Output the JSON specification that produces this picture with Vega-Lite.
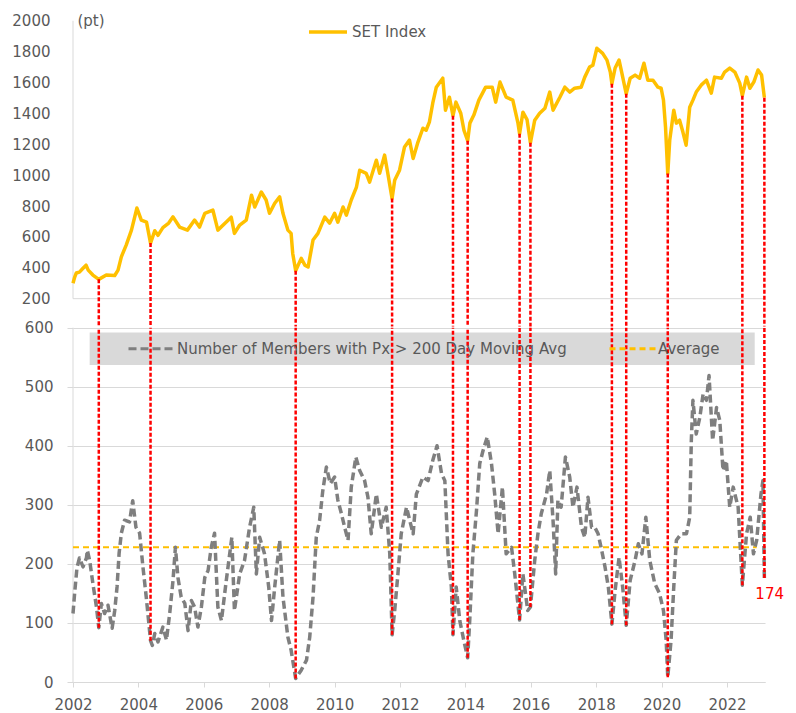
{
  "$schema": "https://vega.github.io/schema/vega-lite/v6.json",
  "width": 692,
  "height": 662,
  "autosize": {"type": "none"},
  "padding": {"left": 73, "top": 20, "right": 31, "bottom": 31},
  "config": {
    "view": {"stroke": null},
    "font": "DejaVu Sans",
    "axis": {"labelFont": "DejaVu Sans", "labelFontSize": 15, "labelColor": "#595959", "domainColor": "#d9d9d9", "tickColor": "#d9d9d9", "gridColor": "#d9d9d9"},
    "axisX": {"tickCount": 10, "format": "%Y", "labelFlush": false, "labelOverlap": false, "domain": true, "ticks": true, "tickSize": 5, "labelPadding": 10, "title": null, "grid": false},
    "legend": {"labelFont": "DejaVu Sans", "labelFontSize": 15, "labelColor": "#595959", "labelLimit": 600, "symbolType": "stroke", "padding": 0}
  },
  "datasets": {
    "set": [
      {"date":"2002-01-01","value":300},{"date":"2002-01-20","value":340},{"date":"2002-02-06","value":366},{"date":"2002-03-14","value":372},{"date":"2002-04-20","value":395},{"date":"2002-05-27","value":417},{"date":"2002-06-20","value":385},{"date":"2002-08-11","value":353},{"date":"2002-10-16","value":325},
      {"date":"2003-01-08","value":353},{"date":"2003-04-12","value":350},{"date":"2003-05-19","value":385},{"date":"2003-06-25","value":471},{"date":"2003-08-18","value":547},{"date":"2003-10-16","value":644},{"date":"2003-12-16","value":787},
      {"date":"2004-02-03","value":709},{"date":"2004-04-01","value":696},{"date":"2004-05-16","value":560},{"date":"2004-07-02","value":640},{"date":"2004-08-07","value":610},{"date":"2004-10-01","value":660},{"date":"2004-12-05","value":690},
      {"date":"2005-01-22","value":730},{"date":"2005-04-05","value":664},{"date":"2005-07-02","value":644},{"date":"2005-09-20","value":709},{"date":"2005-11-14","value":664},
      {"date":"2006-01-12","value":753},{"date":"2006-04-12","value":774},{"date":"2006-06-07","value":644},{"date":"2006-09-09","value":696},{"date":"2006-11-03","value":728},{"date":"2006-12-09","value":623},
      {"date":"2007-02-06","value":677},{"date":"2007-04-20","value":709},{"date":"2007-06-18","value":870},{"date":"2007-07-24","value":794},{"date":"2007-10-05","value":891},{"date":"2007-11-28","value":839},
      {"date":"2008-01-05","value":753},{"date":"2008-03-03","value":818},{"date":"2008-04-27","value":859},{"date":"2008-06-03","value":753},{"date":"2008-07-28","value":644},{"date":"2008-09-02","value":623},{"date":"2008-09-20","value":493},{"date":"2008-10-23","value":381},{"date":"2008-12-24","value":461},
      {"date":"2009-02-03","value":417},{"date":"2009-03-11","value":405},{"date":"2009-05-05","value":580},{"date":"2009-06-29","value":623},{"date":"2009-09-13","value":728},{"date":"2009-11-06","value":689},
      {"date":"2010-01-01","value":753},{"date":"2010-02-06","value":696},{"date":"2010-04-05","value":794},{"date":"2010-05-12","value":741},{"date":"2010-07-06","value":839},{"date":"2010-09-02","value":923},{"date":"2010-10-08","value":1032},{"date":"2010-12-20","value":1012},
      {"date":"2011-01-27","value":955},{"date":"2011-04-12","value":1097},{"date":"2011-05-19","value":1012},{"date":"2011-07-13","value":1130},{"date":"2011-08-18","value":1012},{"date":"2011-10-05","value":848},{"date":"2011-11-03","value":967},{"date":"2011-12-27","value":1032},
      {"date":"2012-02-21","value":1183},{"date":"2012-04-16","value":1227},{"date":"2012-05-27","value":1108},{"date":"2012-07-20","value":1214},{"date":"2012-09-13","value":1304},{"date":"2012-10-19","value":1291},{"date":"2012-11-24","value":1343},
      {"date":"2013-01-01","value":1466},{"date":"2013-02-10","value":1570},{"date":"2013-04-23","value":1628},{"date":"2013-05-23","value":1421},{"date":"2013-07-06","value":1505},{"date":"2013-08-15","value":1385},{"date":"2013-09-17","value":1473},{"date":"2013-11-10","value":1401},{"date":"2013-12-16","value":1290},
      {"date":"2014-01-26","value":1223},{"date":"2014-02-20","value":1337},{"date":"2014-04-05","value":1389},{"date":"2014-05-31","value":1486},{"date":"2014-08-15","value":1570},{"date":"2014-10-27","value":1570},{"date":"2014-12-05","value":1473},
      {"date":"2015-01-22","value":1603},{"date":"2015-04-01","value":1505},{"date":"2015-06-14","value":1486},{"date":"2015-08-11","value":1337},{"date":"2015-08-29","value":1268},{"date":"2015-10-05","value":1408},{"date":"2015-11-20","value":1360},{"date":"2015-12-28","value":1210},
      {"date":"2016-02-14","value":1356},{"date":"2016-04-09","value":1401},{"date":"2016-06-07","value":1433},{"date":"2016-07-31","value":1538},{"date":"2016-09-06","value":1421},{"date":"2016-11-21","value":1505},
      {"date":"2017-01-15","value":1570},{"date":"2017-03-11","value":1538},{"date":"2017-05-05","value":1563},{"date":"2017-07-17","value":1570},{"date":"2017-08-26","value":1635},{"date":"2017-10-19","value":1700},{"date":"2017-11-24","value":1712},
      {"date":"2018-01-08","value":1822},{"date":"2018-03-14","value":1789},{"date":"2018-05-01","value":1745},{"date":"2018-06-07","value":1668},{"date":"2018-06-25","value":1592},{"date":"2018-07-31","value":1694},{"date":"2018-09-13","value":1745},{"date":"2018-10-12","value":1668},{"date":"2018-12-02","value":1527},
      {"date":"2019-01-15","value":1628},{"date":"2019-03-11","value":1648},{"date":"2019-05-01","value":1628},{"date":"2019-06-18","value":1725},{"date":"2019-07-31","value":1615},{"date":"2019-09-27","value":1615},{"date":"2019-11-21","value":1570},{"date":"2019-12-27","value":1563},
      {"date":"2020-01-22","value":1486},{"date":"2020-02-14","value":1311},{"date":"2020-03-10","value":1010},{"date":"2020-04-01","value":1227},{"date":"2020-05-16","value":1421},{"date":"2020-06-14","value":1337},{"date":"2020-07-20","value":1356},{"date":"2020-08-26","value":1279},{"date":"2020-10-01","value":1194},{"date":"2020-11-10","value":1440},{"date":"2020-12-16","value":1486},
      {"date":"2021-01-22","value":1538},{"date":"2021-03-18","value":1583},{"date":"2021-05-16","value":1615},{"date":"2021-07-09","value":1531},{"date":"2021-08-15","value":1635},{"date":"2021-10-30","value":1628},{"date":"2021-12-05","value":1668},
      {"date":"2022-01-31","value":1694},{"date":"2022-03-29","value":1668},{"date":"2022-05-23","value":1596},{"date":"2022-06-21","value":1515},{"date":"2022-08-07","value":1635},{"date":"2022-09-13","value":1563},{"date":"2022-10-27","value":1603},{"date":"2022-12-13","value":1681},
      {"date":"2023-01-22","value":1648},{"date":"2023-02-22","value":1502}
    ],
    "breadth": [
      {"date":"2002-01-01","value":116},{"date":"2002-01-19","value":150},{"date":"2002-02-14","value":193},{"date":"2002-03-14","value":210},{"date":"2002-04-23","value":195},{"date":"2002-05-31","value":210},{"date":"2002-06-10","value":223},{"date":"2002-07-06","value":206},{"date":"2002-08-11","value":167},{"date":"2002-09-20","value":127},{"date":"2002-10-16","value":92},{"date":"2002-11-14","value":133},{"date":"2002-12-20","value":116},
      {"date":"2003-01-27","value":130},{"date":"2003-03-14","value":91},{"date":"2003-04-12","value":121},{"date":"2003-05-08","value":161},{"date":"2003-05-31","value":218},{"date":"2003-06-25","value":252},{"date":"2003-07-31","value":274},{"date":"2003-09-24","value":271},{"date":"2003-10-30","value":307},{"date":"2003-12-05","value":262},
      {"date":"2004-01-15","value":252},{"date":"2004-02-21","value":195},{"date":"2004-03-29","value":144},{"date":"2004-05-16","value":70},{"date":"2004-06-05","value":62},{"date":"2004-07-02","value":82},{"date":"2004-08-07","value":68},{"date":"2004-10-01","value":93},{"date":"2004-11-10","value":71},{"date":"2004-12-16","value":116},
      {"date":"2005-01-22","value":172},{"date":"2005-02-18","value":228},{"date":"2005-03-18","value":177},{"date":"2005-04-23","value":144},{"date":"2005-06-03","value":133},{"date":"2005-07-09","value":87},{"date":"2005-08-15","value":138},{"date":"2005-09-20","value":127},{"date":"2005-10-27","value":93},{"date":"2005-12-05","value":127},
      {"date":"2006-01-12","value":177},{"date":"2006-02-18","value":189},{"date":"2006-03-25","value":228},{"date":"2006-05-01","value":252},{"date":"2006-06-07","value":127},{"date":"2006-07-17","value":104},{"date":"2006-09-09","value":172},{"date":"2006-11-10","value":245},{"date":"2006-12-09","value":121},
      {"date":"2007-02-06","value":183},{"date":"2007-04-01","value":206},{"date":"2007-05-27","value":262},{"date":"2007-07-13","value":296},{"date":"2007-08-11","value":183},{"date":"2007-09-17","value":245},{"date":"2007-11-10","value":217},{"date":"2007-12-27","value":161},
      {"date":"2008-01-27","value":104},{"date":"2008-03-03","value":161},{"date":"2008-04-27","value":240},{"date":"2008-06-03","value":144},{"date":"2008-07-28","value":76},{"date":"2008-09-02","value":54},{"date":"2008-10-23","value":6},{"date":"2008-12-24","value":20},
      {"date":"2009-02-21","value":37},{"date":"2009-03-29","value":76},{"date":"2009-05-05","value":144},{"date":"2009-06-10","value":245},{"date":"2009-07-17","value":273},{"date":"2009-08-22","value":324},{"date":"2009-10-01","value":364},{"date":"2009-11-14","value":336},
      {"date":"2010-01-01","value":347},{"date":"2010-02-06","value":308},{"date":"2010-03-18","value":285},{"date":"2010-04-23","value":262},{"date":"2010-05-31","value":240},{"date":"2010-07-06","value":330},{"date":"2010-08-26","value":381},{"date":"2010-10-08","value":358},{"date":"2010-12-02","value":341},
      {"date":"2011-01-08","value":313},{"date":"2011-02-14","value":251},{"date":"2011-04-12","value":318},{"date":"2011-06-07","value":262},{"date":"2011-07-31","value":296},{"date":"2011-09-09","value":217},{"date":"2011-10-05","value":80},{"date":"2011-11-03","value":121},{"date":"2011-12-09","value":183},
      {"date":"2012-01-15","value":251},{"date":"2012-03-14","value":296},{"date":"2012-04-20","value":273},{"date":"2012-05-27","value":251},{"date":"2012-07-02","value":318},{"date":"2012-09-13","value":347},{"date":"2012-11-10","value":341},
      {"date":"2013-01-01","value":375},{"date":"2013-02-18","value":400},{"date":"2013-04-09","value":353},{"date":"2013-05-16","value":341},{"date":"2013-06-21","value":217},{"date":"2013-07-28","value":161},{"date":"2013-08-15","value":80},{"date":"2013-09-20","value":161},{"date":"2013-10-30","value":104},{"date":"2013-12-13","value":71},
      {"date":"2014-01-26","value":41},{"date":"2014-02-18","value":104},{"date":"2014-03-25","value":217},{"date":"2014-05-05","value":291},{"date":"2014-06-10","value":370},{"date":"2014-07-17","value":392},{"date":"2014-09-02","value":415},{"date":"2014-10-19","value":370},{"date":"2014-11-24","value":318},
      {"date":"2015-01-01","value":251},{"date":"2015-02-18","value":330},{"date":"2015-04-01","value":217},{"date":"2015-05-31","value":228},{"date":"2015-07-06","value":183},{"date":"2015-08-29","value":105},{"date":"2015-10-05","value":183},{"date":"2015-11-28","value":121},{"date":"2015-12-28","value":127},
      {"date":"2016-02-14","value":206},{"date":"2016-03-21","value":251},{"date":"2016-04-27","value":285},{"date":"2016-06-25","value":318},{"date":"2016-07-31","value":358},{"date":"2016-09-06","value":273},{"date":"2016-10-05","value":183},{"date":"2016-10-30","value":308},{"date":"2016-12-05","value":296},
      {"date":"2017-01-22","value":381},{"date":"2017-03-11","value":347},{"date":"2017-04-16","value":296},{"date":"2017-05-31","value":330},{"date":"2017-07-20","value":262},{"date":"2017-08-26","value":245},{"date":"2017-10-01","value":313},{"date":"2017-11-10","value":262},{"date":"2017-12-16","value":262},
      {"date":"2018-01-22","value":251},{"date":"2018-03-03","value":223},{"date":"2018-04-09","value":195},{"date":"2018-05-16","value":161},{"date":"2018-06-25","value":98},{"date":"2018-07-31","value":155},{"date":"2018-09-13","value":211},{"date":"2018-10-23","value":161},{"date":"2018-12-02","value":96},
      {"date":"2019-01-15","value":172},{"date":"2019-03-11","value":206},{"date":"2019-04-16","value":234},{"date":"2019-05-27","value":217},{"date":"2019-07-09","value":279},{"date":"2019-08-22","value":206},{"date":"2019-10-16","value":167},{"date":"2019-12-09","value":150},
      {"date":"2020-01-22","value":121},{"date":"2020-02-21","value":71},{"date":"2020-03-10","value":8},{"date":"2020-04-16","value":71},{"date":"2020-05-16","value":161},{"date":"2020-06-14","value":240},{"date":"2020-08-07","value":251},{"date":"2020-10-05","value":251},{"date":"2020-11-10","value":279},{"date":"2020-11-28","value":409},{"date":"2020-12-16","value":477},
      {"date":"2021-01-22","value":420},{"date":"2021-03-03","value":448},{"date":"2021-04-09","value":488},{"date":"2021-05-16","value":477},{"date":"2021-06-14","value":519},{"date":"2021-07-24","value":409},{"date":"2021-09-06","value":465},{"date":"2021-10-12","value":443},{"date":"2021-11-17","value":358},{"date":"2021-12-24","value":375},
      {"date":"2022-01-31","value":296},{"date":"2022-03-11","value":330},{"date":"2022-05-05","value":296},{"date":"2022-06-21","value":164},{"date":"2022-08-07","value":251},{"date":"2022-09-17","value":279},{"date":"2022-10-23","value":217},{"date":"2022-11-28","value":240},
      {"date":"2023-01-15","value":318},{"date":"2023-02-06","value":341},{"date":"2023-02-22","value":174}
    ],
    "crashes": [
      {"date":"2002-10-16","set":325,"breadth":92},
      {"date":"2004-05-16","set":560,"breadth":70},
      {"date":"2008-10-23","set":381,"breadth":6},
      {"date":"2011-10-05","set":848,"breadth":80},
      {"date":"2013-08-15","set":1385,"breadth":80},
      {"date":"2014-01-26","set":1223,"breadth":41},
      {"date":"2015-08-29","set":1268,"breadth":105},
      {"date":"2015-12-28","set":1210,"breadth":127},
      {"date":"2018-06-25","set":1592,"breadth":98},
      {"date":"2018-12-02","set":1527,"breadth":96},
      {"date":"2020-03-10","set":1010,"breadth":8},
      {"date":"2022-06-21","set":1515,"breadth":164},
      {"date":"2023-02-22","set":1502,"breadth":176}
    ],
    "average": [{"start":"2002-01-01","end":"2022-11-28","value":228}]
  },
  "layer": [
    {
      "data": {"values": [{}]},
      "mark": {"type": "rect", "color": "#d9d9d9"},
      "encoding": {
        "x": {"datum": {"year": 2002, "month": 7, "date": 6}, "type": "temporal", "scale": {"domain": [{"year": 2002, "month": 1, "date": 1}, {"year": 2023, "month": 3, "date": 1}]}},
        "x2": {"datum": {"year": 2022, "month": 11, "date": 6}},
        "y": {"datum": 592, "type": "quantitative", "scale": {"domain": [0, 1121], "nice": false, "zero": false}, "axis": null},
        "y2": {"datum": 537}
      }
    },
    {
      "data": {"values": [{}]},
      "mark": {"type": "rule", "color": "#d9d9d9", "strokeWidth": 1},
      "encoding": {
        "x": {"datum": {"year": 2002, "month": 1, "date": 1}, "type": "temporal"},
        "y": {"datum": 0, "type": "quantitative", "scale": {"domain": [0, 1121], "nice": false, "zero": false}, "axis": null},
        "y2": {"datum": 600}
      }
    },
    {
      "data": {"values": [{}]},
      "mark": {"type": "rule", "color": "#d9d9d9", "strokeWidth": 1},
      "encoding": {
        "x": {"datum": {"year": 2002, "month": 1, "date": 1}, "type": "temporal"},
        "y": {"datum": 200, "type": "quantitative", "scale": {"domain": [-2283, 2005], "nice": false, "zero": false}, "axis": null},
        "y2": {"datum": 2000}
      }
    },
    {
      "data": {"values": [{}]},
      "mark": {"type": "rule", "color": "#d9d9d9", "strokeWidth": 1},
      "encoding": {
        "x": {"datum": {"year": 2002, "month": 1, "date": 1}, "type": "temporal"},
        "x2": {"datum": {"year": 2023, "month": 3, "date": 1}},
        "y": {"datum": 200, "type": "quantitative", "scale": {"domain": [-2283, 2005], "nice": false, "zero": false}, "axis": null}
      }
    },
    {
      "data": {"name": "set"},
      "mark": {"type": "line", "strokeWidth": 3.5, "strokeJoin": "round"},
      "encoding": {
        "x": {"field": "date", "type": "temporal"},
        "y": {"field": "value", "type": "quantitative", "scale": {"domain": [-2283, 2005], "nice": false, "zero": false},
          "axis": {"orient": "left", "values": [200,400,600,800,1000,1200,1400,1600,1800,2000], "format": "d", "domain": false, "grid": false, "ticks": false, "labelPadding": 23, "title": "(pt)", "titleAngle": 0, "titleX": 4, "titleY": 0, "titleAlign": "left", "titleBaseline": "middle", "titleFontSize": 15, "titleFontWeight": "normal", "titleColor": "#595959"}},
        "color": {"datum": "SET Index", "type": "nominal", "scale": {"domain": ["SET Index"], "range": ["#FFC000"]},
          "legend": {"title": null, "orient": "none", "legendX": 234, "legendY": -9, "direction": "horizontal", "symbolSize": 1444, "symbolStrokeWidth": 3.5, "labelOffset": 3}}
      }
    },
    {
      "data": {"name": "average"},
      "mark": {"type": "rule", "strokeWidth": 2, "color": "#FFC000", "strokeDash": [6, 4]},
      "encoding": {
        "x": {"field": "start", "type": "temporal"},
        "x2": {"field": "end"},
        "y": {"field": "value", "type": "quantitative", "scale": {"domain": [0, 1121], "nice": false, "zero": false}, "axis": null}
      }
    },
    {
      "data": {"name": "breadth"},
      "mark": {"type": "line", "strokeWidth": 3.5, "strokeJoin": "round"},
      "encoding": {
        "x": {"field": "date", "type": "temporal"},
        "y": {"field": "value", "type": "quantitative", "scale": {"domain": [0, 1121], "nice": false, "zero": false},
          "axis": {"orient": "left", "values": [0,100,200,300,400,500,600], "format": "d", "domain": false, "grid": true, "ticks": true, "tickSize": 6, "labelPadding": 14, "title": null}},
        "color": {"datum": "Number of Members with Px > 200 Day Moving Avg", "type": "nominal",
          "scale": {"domain": ["Number of Members with Px > 200 Day Moving Avg", "Average"], "range": ["#7f7f7f", "#FFC000"]},
          "legend": {"title": null, "orient": "none", "legendX": 54, "legendY": 304, "direction": "horizontal", "symbolSize": 2116, "symbolStrokeWidth": 3, "labelOffset": 1, "columnPadding": 36}},
        "strokeDash": {"datum": "Number of Members with Px > 200 Day Moving Avg", "type": "nominal",
          "scale": {"domain": ["Number of Members with Px > 200 Day Moving Avg", "Average"], "range": [[8, 4], [6, 4]]}}
      }
    },
    {
      "data": {"name": "crashes"},
      "mark": {"type": "rule", "color": "#FF0000", "strokeWidth": 2.5, "strokeDash": [4, 2]},
      "encoding": {
        "x": {"field": "date", "type": "temporal"},
        "y": {"field": "set", "type": "quantitative", "scale": {"domain": [-2283, 2005], "nice": false, "zero": false}, "axis": null},
        "y2": {"datum": 20}
      }
    },
    {
      "data": {"name": "crashes"},
      "mark": {"type": "rule", "color": "#FF0000", "strokeWidth": 2.5, "strokeDash": [4, 2]},
      "encoding": {
        "x": {"field": "date", "type": "temporal"},
        "y": {"field": "breadth", "type": "quantitative", "scale": {"domain": [0, 1121], "nice": false, "zero": false}, "axis": null},
        "y2": {"datum": 600}
      }
    },
    {
      "data": {"name": "breadth"},
      "transform": [{"filter": "datum.value === 174"}],
      "mark": {"type": "text", "color": "#FF0000", "fontSize": 15, "align": "left", "baseline": "middle", "dx": -9, "dy": 15},
      "encoding": {
        "x": {"field": "date", "type": "temporal"},
        "y": {"field": "value", "type": "quantitative", "scale": {"domain": [0, 1121], "nice": false, "zero": false}, "axis": null},
        "text": {"field": "value", "type": "quantitative"}
      }
    }
  ],
  "resolve": {"scale": {"y": "independent", "color": "independent", "strokeDash": "independent"}, "axis": {"y": "independent"}}
}
